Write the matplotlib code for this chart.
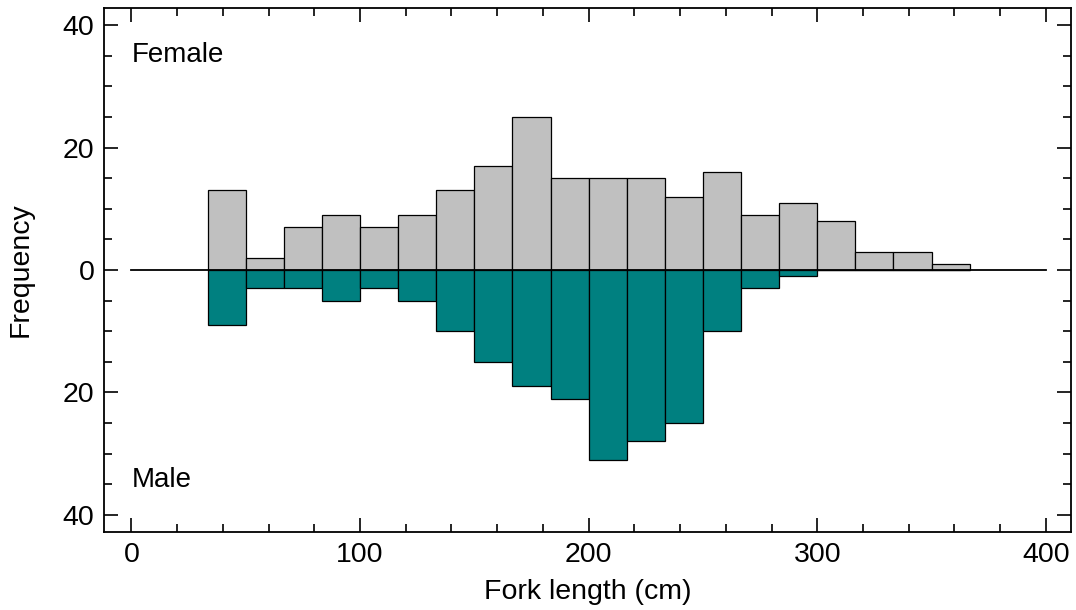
import numpy as np
import matplotlib
matplotlib.use('Agg')
import matplotlib.pyplot as plt
from matplotlib.ticker import MultipleLocator, FuncFormatter

plt.rcParams['font.family'] = ['Liberation Sans', 'DejaVu Sans']

# ---------------------------------------------------------------------------
# Data: fork-length histogram, bins of 400/24 cm starting at 400/12
# ---------------------------------------------------------------------------
bin_width = 400 / 24
bin_left = np.arange(2, 22) * bin_width
female = [13, 2, 7, 9, 7, 9, 13, 17, 25, 15, 15, 15, 12, 16, 9, 11, 8, 3, 3, 1]
male = [9, 3, 3, 5, 3, 5, 10, 15, 19, 21, 31, 28, 25, 10, 3, 1, 0, 0, 0, 0]

fig = plt.figure(figsize=(10.76, 6.10), dpi=100)
ax = fig.add_axes([104 / 1076, 1 - 532 / 610, (1071 - 104) / 1076, (532 - 8) / 610])

ax.bar(bin_left, female, width=bin_width, align='edge',
       color='#c0c0c0', edgecolor='black', linewidth=0.9)
ax.bar(bin_left, -np.array(male), width=bin_width, align='edge',
       color='#008080', edgecolor='black', linewidth=0.9)
ax.plot([0, 400], [0, 0], color='black', linewidth=1.3)

ax.text(0, 35.2, 'Female', fontsize=20, va='center', ha='left')
ax.text(0, -34.3, 'Male', fontsize=20, va='center', ha='left')

ax.set_xlim(-12, 411)
ax.set_ylim(-42.8, 42.8)
ax.xaxis.set_major_locator(MultipleLocator(100))
ax.xaxis.set_minor_locator(MultipleLocator(20))
ax.yaxis.set_major_locator(MultipleLocator(20))
ax.yaxis.set_minor_locator(MultipleLocator(5))
ax.yaxis.set_major_formatter(FuncFormatter(lambda v, p: f'{abs(v):.0f}'))

ax.tick_params(which='both', direction='in', top=True, right=True,
               labelsize=20.5, width=1.2)
ax.tick_params(which='major', length=10, pad=7)
ax.tick_params(which='minor', length=6)
for s in ax.spines.values():
    s.set_linewidth(1.3)

ax.set_xlabel('Fork length (cm)', fontsize=20.5, labelpad=8)
ax.set_ylabel('Frequency', fontsize=20.5, labelpad=21)

fig.savefig('out.png', dpi=100)
